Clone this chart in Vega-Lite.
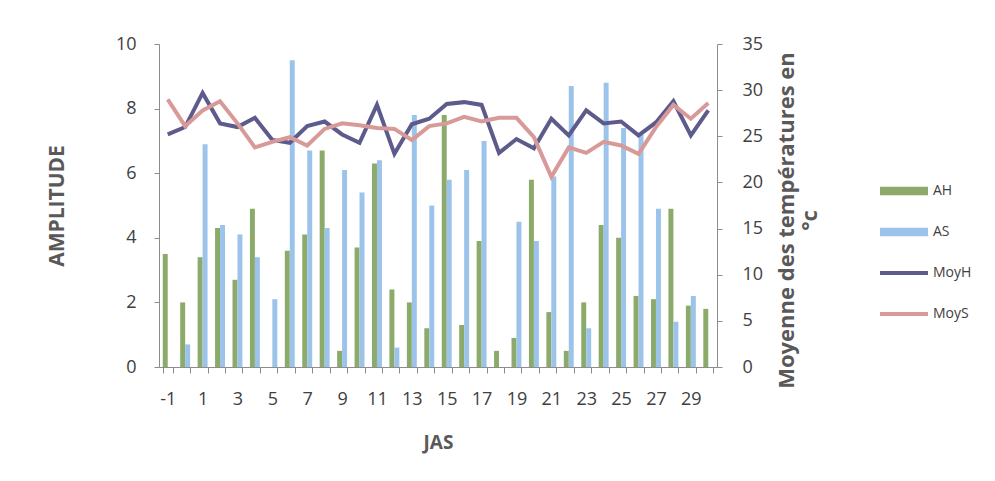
{
  "$schema": "https://vega.github.io/schema/vega-lite/v6.json",
  "width": 558,
  "height": 323,
  "autosize": {"type": "none"},
  "padding": {"left": 159, "top": 44, "right": 278, "bottom": 114},
  "background": "white",
  "config": {
    "font": "Open Sans",
    "view": {"stroke": null},
    "axis": {
      "grid": false,
      "domainColor": "#8c8c8c",
      "tickColor": "#8c8c8c",
      "labelColor": "#404040",
      "labelFont": "Open Sans",
      "labelFontSize": 18,
      "titleFont": "Open Sans",
      "titleFontWeight": "bold",
      "titleColor": "#595959",
      "titleFontSize": 21
    }
  },
  "data": {
    "values": [
      {"JAS": -1, "AH": 3.5, "AS": 0, "MoyH": 25.2, "MoyS": 29.0},
      {"JAS": 0, "AH": 2.0, "AS": 0.7, "MoyH": 26.0, "MoyS": 26.1},
      {"JAS": 1, "AH": 3.4, "AS": 6.9, "MoyH": 29.7, "MoyS": 27.8},
      {"JAS": 2, "AH": 4.3, "AS": 4.4, "MoyH": 26.4, "MoyS": 28.8},
      {"JAS": 3, "AH": 2.7, "AS": 4.1, "MoyH": 26.0, "MoyS": 26.4},
      {"JAS": 4, "AH": 4.9, "AS": 3.4, "MoyH": 27.0, "MoyS": 23.8},
      {"JAS": 5, "AH": 0, "AS": 2.1, "MoyH": 24.6, "MoyS": 24.4},
      {"JAS": 6, "AH": 3.6, "AS": 9.5, "MoyH": 24.3, "MoyS": 24.9},
      {"JAS": 7, "AH": 4.1, "AS": 6.7, "MoyH": 26.1, "MoyS": 24.0},
      {"JAS": 8, "AH": 6.7, "AS": 4.3, "MoyH": 26.6, "MoyS": 25.8},
      {"JAS": 9, "AH": 0.5, "AS": 6.1, "MoyH": 25.2, "MoyS": 26.4},
      {"JAS": 10, "AH": 3.7, "AS": 5.4, "MoyH": 24.3, "MoyS": 26.2},
      {"JAS": 11, "AH": 6.3, "AS": 6.4, "MoyH": 28.4, "MoyS": 25.9},
      {"JAS": 12, "AH": 2.4, "AS": 0.6, "MoyH": 23.1, "MoyS": 25.8},
      {"JAS": 13, "AH": 2.0, "AS": 7.8, "MoyH": 26.3, "MoyS": 24.6},
      {"JAS": 14, "AH": 1.2, "AS": 5.0, "MoyH": 26.9, "MoyS": 26.1},
      {"JAS": 15, "AH": 7.8, "AS": 5.8, "MoyH": 28.5, "MoyS": 26.4},
      {"JAS": 16, "AH": 1.3, "AS": 6.1, "MoyH": 28.7, "MoyS": 27.1},
      {"JAS": 17, "AH": 3.9, "AS": 7.0, "MoyH": 28.4, "MoyS": 26.6},
      {"JAS": 18, "AH": 0.5, "AS": 0, "MoyH": 23.2, "MoyS": 27.0},
      {"JAS": 19, "AH": 0.9, "AS": 4.5, "MoyH": 24.7, "MoyS": 27.0},
      {"JAS": 20, "AH": 5.8, "AS": 3.9, "MoyH": 23.7, "MoyS": 24.9},
      {"JAS": 21, "AH": 1.7, "AS": 5.9, "MoyH": 26.9, "MoyS": 20.6},
      {"JAS": 22, "AH": 0.5, "AS": 8.7, "MoyH": 25.1, "MoyS": 23.8},
      {"JAS": 23, "AH": 2.0, "AS": 1.2, "MoyH": 27.8, "MoyS": 23.2},
      {"JAS": 24, "AH": 4.4, "AS": 8.8, "MoyH": 26.4, "MoyS": 24.4},
      {"JAS": 25, "AH": 4.0, "AS": 7.4, "MoyH": 26.6, "MoyS": 24.0},
      {"JAS": 26, "AH": 2.2, "AS": 7.2, "MoyH": 25.1, "MoyS": 23.1},
      {"JAS": 27, "AH": 2.1, "AS": 4.9, "MoyH": 26.5, "MoyS": 26.0},
      {"JAS": 28, "AH": 4.9, "AS": 1.4, "MoyH": 28.8, "MoyS": 28.4},
      {"JAS": 29, "AH": 1.9, "AS": 2.2, "MoyH": 25.1, "MoyS": 26.9},
      {"JAS": 30, "AH": 1.8, "AS": 0, "MoyH": 27.8, "MoyS": 28.6}
    ]
  },
  "layer": [
    {
      "mark": {"type": "bar"},
      "transform": [{"fold": ["AH", "AS"], "as": ["series", "val"]}],
      "encoding": {
        "x": {
          "field": "JAS",
          "type": "ordinal",
          "sort": "ascending",
          "scale": {"paddingInner": 0.43, "paddingOuter": 0.215},
          "axis": {
            "title": "JAS",
            "labelAngle": 0,
            "labelExpr": "(datum.value + 1) % 2 == 0 ? datum.label : ''",
            "tickBand": "extent",
            "tickSize": 6,
            "labelPadding": 17,
            "titleX": 279,
            "titleY": 75,
            "titleFontSize": 19,
            "titleBaseline": "middle"
          }
        },
        "xOffset": {"field": "series", "type": "nominal", "scale": {"paddingInner": 0}},
        "y": {
          "field": "val",
          "type": "quantitative",
          "scale": {"domain": [0, 10]},
          "axis": {
            "title": "AMPLITUDE",
            "values": [0, 2, 4, 6, 8, 10],
            "tickSize": 5,
            "labelPadding": 18,
            "titleX": -102,
            "titleY": 161.5,
            "titleAngle": 270,
            "titleBaseline": "middle"
          }
        },
        "color": {
          "field": "series",
          "type": "nominal",
          "scale": {"domain": ["AH", "AS", "MoyH", "MoyS"], "range": ["#8cab6a", "#9cc3ea", "#5d5b8c", "#d89a98"]},
          "legend": {
            "orient": "none",
            "legendX": 721,
            "legendY": 123,
            "title": null,
            "padding": 0,
            "symbolType": "M-1,-0.18H1V0.18H-1Z",
            "symbolSize": 2304,
            "symbolStrokeWidth": 0,
            "labelFontSize": 14,
            "labelColor": "#404040",
            "labelOffset": 5,
            "rowPadding": 10,
            "gridAlign": "all",
            "encode": {
              "symbols": {
                "update": {
                  "shape": {"signal": "datum.value == 'AH' || datum.value == 'AS' ? 'M-1,-0.18H1V0.18H-1Z' : 'M-1,-0.085H1V0.085H-1Z'"},
                  "fill": {"signal": "scale('color', datum.value)"},
                  "strokeWidth": {"value": 0},
                  "opacity": {"value": 1}
                }
              }
            }
          }
        }
      }
    },
    {
      "mark": {"type": "line", "strokeWidth": 4},
      "transform": [{"fold": ["MoyH", "MoyS"], "as": ["series", "val"]}],
      "encoding": {
        "x": {"field": "JAS", "type": "ordinal", "sort": "ascending"},
        "y": {
          "field": "val",
          "type": "quantitative",
          "scale": {"domain": [0, 35]},
          "axis": {
            "orient": "right",
            "title": ["Moyenne des  températures en", "°c"],
            "values": [0, 5, 10, 15, 20, 25, 30, 35],
            "tickSize": 5,
            "labelPadding": 20,
            "titleX": 69,
            "titleY": 176,
            "titleAngle": 270,
            "titleFontSize": 22,
            "titleBaseline": "middle",
            "titleLineHeight": 23
          }
        },
        "color": {"field": "series", "type": "nominal"}
      }
    }
  ],
  "resolve": {"scale": {"y": "independent"}}
}
